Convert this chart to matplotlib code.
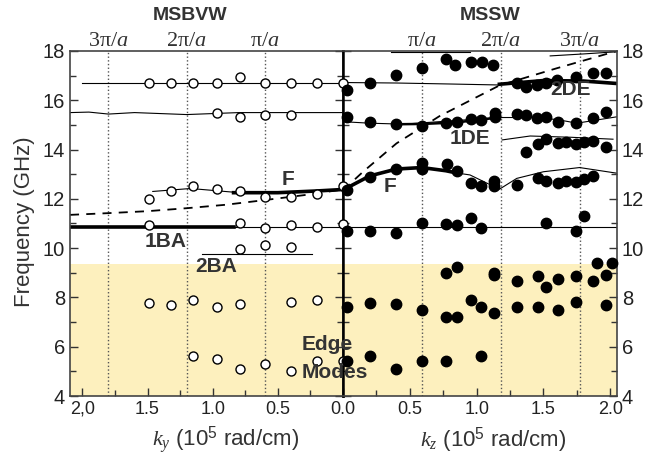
import matplotlib
matplotlib.use('Agg')
import matplotlib.pyplot as plt
from matplotlib.ticker import MultipleLocator
import numpy as np

plt.rcParams['font.family'] = ['Liberation Sans', 'DejaVu Sans']
plt.rcParams['mathtext.fontset'] = 'custom'
plt.rcParams['mathtext.rm'] = 'Liberation Serif'
plt.rcParams['mathtext.it'] = 'Liberation Serif:italic'
plt.rcParams['mathtext.sf'] = 'Liberation Sans'

# ---- MSBVW (left, open circles), ky in 1e5 rad/cm, f in GHz
bv_top_k = [1.49, 1.32, 1.15, 0.97, 0.79, 0.60, 0.40, 0.20]
bv_top_f = [16.72, 16.72, 16.72, 16.72, 16.96, 16.72, 16.72, 16.72]
bv_155_k = [0.97, 0.79, 0.60, 0.40]
bv_155_f = [15.47, 15.34, 15.39, 15.39]
bv_F_k = [1.49, 1.32, 1.15, 0.97, 0.79, 0.60, 0.40, 0.20]
bv_F_f = [12.01, 12.32, 12.52, 12.41, 12.32, 12.09, 12.09, 12.20]
bv_1BA_k = [1.49, 0.79, 0.60, 0.40, 0.20]
bv_1BA_f = [10.94, 11.03, 10.82, 10.94, 10.85]
bv_2BA_k = [0.79, 0.60, 0.40]
bv_2BA_f = [9.95, 10.11, 10.03]
bv_edge1_k = [1.49, 1.32, 1.15, 0.97, 0.79, 0.40, 0.20]
bv_edge1_f = [7.79, 7.68, 7.90, 7.60, 7.72, 7.80, 7.90]
bv_edge2_k = [1.15, 0.97, 0.79, 0.60, 0.40, 0.20]
bv_edge2_f = [5.62, 5.50, 5.11, 5.30, 5.00, 5.43]
# open circles sitting on the k = 0 line
bv_zero_f = [16.72, 12.52, 10.96, 5.43]

# left panel curves
lc_top_k = [2.0, 1.0, 0.0]
lc_top_f = [16.72, 16.72, 16.72]
lc_155_k = [2.095, 1.95, 1.8, 1.6, 1.2, 0.8, 0.4, 0.0]
lc_155_f = [15.5, 15.52, 15.44, 15.5, 15.42, 15.5, 15.5, 15.5]
lc_dash_k = [2.095, 1.8, 1.5, 1.2, 0.9, 0.6, 0.3, 0.0]
lc_dash_f = [11.35, 11.42, 11.5, 11.62, 11.76, 11.95, 12.15, 12.38]
lc_Fthin_k = [1.46, 1.17, 0.84]
lc_Fthin_f = [12.30, 12.42, 12.27]
lc_Fthick_k = [0.84, 0.5, 0.2, 0.0]
lc_Fthick_f = [12.25, 12.25, 12.32, 12.38]
lc_1BA_k = [2.095, 0.84]
lc_1BA_f = [10.86, 10.86]
lc_1BAthin_k = [0.84, 0.0]
lc_1BAthin_f = [10.86, 10.86]
lc_2BA_k = [1.08, 0.24]
lc_2BA_f = [9.76, 9.76]

# ---- MSSW (right, filled circles), kz in 1e5 rad/cm
sw_k = [0.03, 0.20, 0.40, 0.59, 0.77, 0.84, 0.96, 1.04, 1.12,
        1.30, 1.37, 1.45, 1.52, 1.60, 1.74, 1.87, 1.97,
        0.03, 0.20, 0.40, 0.59, 0.77, 0.85, 0.96, 1.03, 1.14, 1.14, 1.30, 1.37, 1.45, 1.52, 1.61, 1.74, 1.87, 1.97,
        1.37, 1.46, 1.52, 1.61, 1.67, 1.74, 1.80, 1.87, 1.97,
        0.03, 0.20, 0.40, 0.59, 0.59, 0.78, 0.85, 0.96, 1.03, 1.13, 1.13, 1.30, 1.46, 1.52, 1.61, 1.67, 1.74, 1.80, 1.87,
        0.03, 0.20, 0.40, 0.59, 0.77, 0.85, 0.96, 1.03, 1.52, 1.74, 1.80,
        0.03, 0.20, 0.40, 0.59, 0.77, 0.85, 0.96, 1.03, 1.13, 1.30, 1.46, 1.61, 1.74, 1.97,
        0.77, 0.85, 1.13, 1.13, 1.30, 1.46, 1.52, 1.61, 1.74, 1.87, 1.90, 1.97, 2.01,
        0.03, 0.20, 0.40, 0.59, 0.77, 1.03]
sw_f = [16.42, 16.69, 17.03, 17.32, 17.68, 17.43, 17.57, 17.54, 17.43,
        16.69, 16.55, 16.62, 16.72, 16.82, 16.93, 17.12, 17.12,
        15.34, 15.11, 15.04, 14.96, 15.07, 15.11, 15.24, 15.20, 15.47, 15.31, 15.44, 15.42, 15.27, 15.31, 15.13, 15.07, 15.27, 15.51,
        13.92, 14.23, 14.42, 14.28, 14.31, 14.23, 14.31, 14.34, 14.09,
        12.36, 12.90, 13.21, 13.44, 13.21, 13.41, 13.13, 12.66, 12.52, 12.73, 12.52, 12.56, 12.83, 12.73, 12.66, 12.73, 12.70, 12.80, 12.93,
        10.71, 10.69, 10.60, 11.01, 10.97, 10.94, 11.24, 10.83, 11.01, 10.71, 11.32,
        7.60, 7.79, 7.72, 7.49, 7.22, 7.22, 7.90, 7.60, 7.36, 7.60, 7.60, 7.49, 7.80, 7.69,
        9.00, 9.22, 9.00, 8.90, 8.68, 8.87, 8.44, 8.74, 8.87, 8.68, 9.41, 8.91, 9.41,
        5.43, 5.62, 5.11, 5.41, 5.41, 5.62]

# right panel curves
rc_top_k = [0.0, 0.4, 0.8, 1.17]
rc_top_f = [16.72, 16.70, 16.66, 16.62]
rc_2DE_k = [1.17, 1.5, 1.8, 2.05]
rc_2DE_f = [16.65, 16.80, 16.78, 16.68]
rc_18a_k = [0.36, 0.95]
rc_18a_f = [17.95, 17.95]
rc_18b_k = [1.55, 1.8, 2.05]
rc_18b_f = [17.80, 17.88, 17.97]
rc_15_k = [0.0, 0.2, 0.45, 1.17, 1.4, 1.6, 1.75, 1.9, 2.05]
rc_15_f = [15.13, 15.07, 15.03, 15.30, 15.30, 15.22, 15.07, 15.20, 15.33]
rc_15thick_k = [0.45, 0.6, 0.85, 1.0, 1.17]
rc_15thick_f = [15.03, 15.04, 15.10, 15.20, 15.30]
rc_1DE_k = [1.19, 1.4, 1.7, 2.02]
rc_1DE_f = [14.39, 14.55, 14.50, 14.42]
rc_Fthick_k = [0.0, 0.2, 0.4, 0.59, 0.77, 0.85]
rc_Fthick_f = [12.36, 12.93, 13.21, 13.27, 13.14, 13.05]
rc_Fthin_k = [0.85, 0.95, 1.17, 1.3, 1.5, 1.77, 2.05]
rc_Fthin_f = [13.05, 12.97, 12.39, 12.83, 13.10, 13.27, 13.04]
rc_11_k = [0.0, 2.05]
rc_11_f = [10.86, 10.86]
rc_dash_k = [0.0, 0.15, 0.4, 0.72, 1.17, 1.6, 2.05]
rc_dash_f = [12.35, 13.1, 14.25, 15.35, 16.6, 17.3, 18.0]

pi_left = [1.8, 1.2, 0.6]
pi_right = [0.59, 1.18, 1.77]
pi_labels = [r'$\mathrm{3\pi}/a$', r'$\mathrm{2\pi}/a$', r'$\mathrm{\pi}/a$']
pi_labels_r = [r'$\mathrm{\pi}/a$', r'$\mathrm{2\pi}/a$', r'$\mathrm{3\pi}/a$']

shade_top = 9.35
txt = '#333333'
shade = '#fdf0be'

fig = plt.figure(figsize=(6.46, 4.72), dpi=100)
axl = fig.add_axes([0.1084, 0.161, 0.4226, 0.731])
axr = fig.add_axes([0.531, 0.161, 0.4241, 0.731])

for ax in (axl, axr):
    ax.axhspan(4, shade_top, color=shade, lw=0, zorder=0)
    ax.set_ylim(4, 18)
    ax.yaxis.set_major_locator(MultipleLocator(2))
    ax.yaxis.set_minor_locator(MultipleLocator(1))
    ax.xaxis.set_major_locator(MultipleLocator(0.5))
    ax.xaxis.set_minor_locator(MultipleLocator(0.25))
    ax.tick_params(which='both', direction='in', left=True, right=True, top=False, bottom=True,
                   colors='#333333', labelsize=14.5, labelcolor='#222222')
    ax.tick_params(which='major', length=6, width=1)
    ax.tick_params(which='minor', length=4, width=1)
    for s in ax.spines.values():
        s.set_color('#444444')
        s.set_linewidth(1.2)

axl.set_xlim(2.095, 0)
axr.set_xlim(0, 2.05)
axl.spines['right'].set_color('black')
axl.spines['right'].set_linewidth(1.8)
axr.spines['left'].set_color('black')
axr.spines['left'].set_linewidth(1.8)
axl.tick_params(labelleft=True, labelright=False)
axr.tick_params(labelleft=False, labelright=True)
axl.set_xticks([2.0, 1.5, 1.0, 0.5, 0.0])
axl.set_xticklabels(['2,0', '1.5', '1.0', '0.5', ''])
axr.set_xticks([0.0, 0.5, 1.0, 1.5, 2.0])
axr.set_xticklabels(['0.0', '0.5', '1.0', '1.5', '2.0'])
for ax in (axl, axr):
    for lab in ax.get_xticklabels():
        lab.set_fontsize(13)

# dotted pi/a lines and labels
for k, lab in zip(pi_left, pi_labels):
    axl.axvline(k, color='#555555', ls=':', lw=1, zorder=1)
    axl.text(k, 18.2, lab, ha='center', va='baseline', fontsize=16, color=txt)
for k, lab in zip(pi_right, pi_labels_r):
    axr.axvline(k, color='#555555', ls=':', lw=1, zorder=1)
    axr.text(k, 18.2, lab, ha='center', va='baseline', fontsize=16, color=txt)

# left curves
thin = dict(color='black', lw=0.8, zorder=2)
thick = dict(color='black', lw=2.6, zorder=2)
axl.plot(lc_top_k, lc_top_f, **thin)
axl.plot(lc_155_k, lc_155_f, **thin)
axl.plot(lc_Fthin_k, lc_Fthin_f, **thin)
axl.plot(lc_Fthick_k, lc_Fthick_f, **thick)
axl.plot(lc_1BA_k, lc_1BA_f, **thick)
axl.plot(lc_1BAthin_k, lc_1BAthin_f, **thin)
axl.plot(lc_2BA_k, lc_2BA_f, **thin)
axl.plot(lc_dash_k, lc_dash_f, color='black', lw=1.3, ls=(0, (5, 4)), zorder=2)

ofmt = dict(marker='o', ls='none', ms=6.5, mfc='white', mec='black', mew=1, zorder=5, clip_on=False)
for k, f in [(bv_top_k, bv_top_f), (bv_155_k, bv_155_f), (bv_F_k, bv_F_f), (bv_1BA_k, bv_1BA_f),
             (bv_2BA_k, bv_2BA_f), (bv_edge1_k, bv_edge1_f), (bv_edge2_k, bv_edge2_f)]:
    axl.plot(k, f, **ofmt)

# right curves
axr.plot(rc_top_k, rc_top_f, **thin)
axr.plot(rc_2DE_k, rc_2DE_f, **thick)
axr.plot(rc_18a_k, rc_18a_f, **thin)
axr.plot(rc_18b_k, rc_18b_f, **thin)
axr.plot(rc_15_k, rc_15_f, **thin)
axr.plot(rc_15thick_k, rc_15thick_f, color='black', lw=1.8, zorder=2)
axr.plot(rc_1DE_k, rc_1DE_f, **thin)
axr.plot(rc_Fthick_k, rc_Fthick_f, **thick)
axr.plot(rc_Fthin_k, rc_Fthin_f, **thin)
axr.plot(rc_11_k, rc_11_f, **thin)
axr.plot(rc_dash_k, rc_dash_f, color='black', lw=1.3, ls=(0, (5, 4)), zorder=2)
# open circles at k = 0 (drawn on the right axes so they sit over the centre line)
axr.plot([0.0] * len(bv_zero_f), bv_zero_f, marker='o', ls='none', ms=6.5, mfc='white',
         mec='black', mew=1, zorder=3, clip_on=False)
axr.plot(sw_k, sw_f, marker='o', ls='none', ms=7.5, color='black', zorder=4, clip_on=False)

# labels inside
lab = dict(fontsize=15, fontweight='bold', color=txt, zorder=6)
axl.text(0.42, 12.77, 'F', ha='center', va='center', **lab)
axl.text(1.36, 10.26, '1BA', ha='center', va='center', **lab)
axl.text(0.97, 9.25, '2BA', ha='center', va='center', **lab)
axr.text(0.35, 12.5, 'F', ha='center', va='center', **lab)
axr.text(0.95, 14.45, '1DE', ha='center', va='center', **lab)
axr.text(1.70, 16.42, '2DE', ha='center', va='center', **lab)
# Edge / Modes straddles both panels: put it at figure level
fig.text(0.32, 6.07, 'Edge', ha='left', va='center', transform=axl.transData, **lab)
fig.text(0.32, 4.97, 'Modes', ha='left', va='center', transform=axl.transData, **lab)

fig.text(190 / 646, 1 - 16 / 472, 'MSBVW', ha='center', va='center', fontsize=14, fontweight='bold', color=txt)
fig.text(490 / 646, 1 - 16 / 472, 'MSSW', ha='center', va='center', fontsize=14, fontweight='bold', color=txt)
fig.text(25 / 646, 0.53, 'Frequency (GHz)', rotation=90, ha='center', va='center', fontsize=16, color=txt)
fig.text(226 / 646, 1 - 440 / 472, r'$k_y$ (10$^{\mathsf{5}}$ rad/cm)', ha='center', va='center', fontsize=16, color=txt)
fig.text(493 / 646, 1 - 440 / 472, r'$k_z$ (10$^{\mathsf{5}}$ rad/cm)', ha='center', va='center', fontsize=16, color=txt)

fig.savefig('out.png', dpi=100)
